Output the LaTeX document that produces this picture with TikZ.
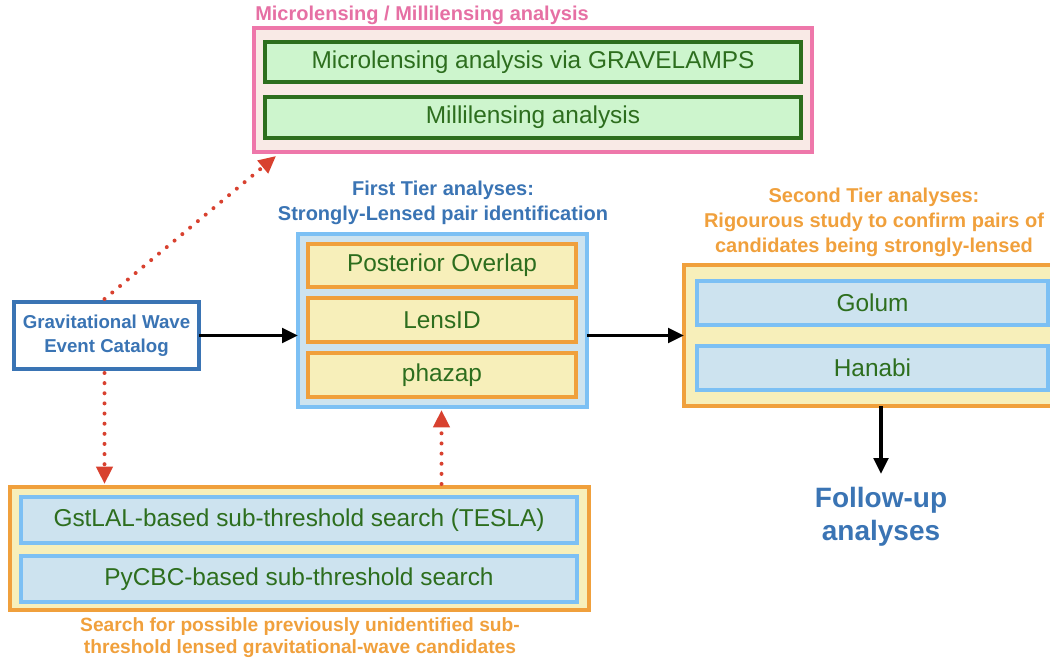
\documentclass[tikz,border=0pt]{standalone}
\usepackage{fontspec}
\setmainfont{Liberation Sans}
\usetikzlibrary{arrows.meta,calc}

\definecolor{pinkb}{HTML}{EE77AA}
\definecolor{pinkt}{HTML}{E670A4}
\definecolor{pinkf}{HTML}{F9EAE6}
\definecolor{greenb}{HTML}{2D6E1E}
\definecolor{greenf}{HTML}{CDF5CD}
\definecolor{blueb}{HTML}{3A74B4}
\definecolor{lblueb}{HTML}{7CC0F4}
\definecolor{lbluef}{HTML}{CDE3EF}
\definecolor{orangeb}{HTML}{F0A03C}
\definecolor{yellowf}{HTML}{F7EFBA}
\definecolor{redd}{HTML}{D8412F}

\tikzset{
  panel/.style={inner sep=0pt, outer sep=0pt, line width=2.4pt},
  microframe/.style={panel, draw=pinkb, fill=pinkf},
  greenbox/.style={panel, draw=greenb, fill=greenf, text=greenb, font=\fontsize{18.3}{22}\selectfont},
  blueframe/.style={panel, draw=lblueb, fill=lbluef},
  yellowframe/.style={panel, draw=orangeb, fill=yellowf},
  bluebox/.style={blueframe, text=greenb, font=\fontsize{18.3}{22}\selectfont},
  yellowbox/.style={yellowframe, text=greenb, font=\fontsize{18.3}{22}\selectfont},
  catalog/.style={panel, draw=blueb, fill=white, text=blueb, align=center,
    font=\bfseries\fontsize{14}{18}\selectfont},
  heading/.style={inner sep=0pt, align=center, font=\bfseries\fontsize{15}{18.8}\selectfont},
  flow/.style={line width=2.6pt, -{Triangle[length=12pt,width=11pt]}},
  link/.style={draw=redd, line width=3pt, line cap=round, dash pattern=on 0pt off 7.6pt,
    -{Triangle[length=13pt,width=12pt]}, redd},
}

% \panelnode{style}{name}{x1}{y1}{x2}{y2}{text}: a box spanning two corners (pixel units)
\newcommand{\panelnode}[7]{%
  \node[#1, minimum width={(#5-#3)*0.75pt}, minimum height={(#6-#4)*0.75pt}]
    (#2) at ({(#3+#5)/2},{(#4+#6)/2}) {#7};}

\begin{document}
\begin{tikzpicture}[x=0.75pt, y=-0.75pt]
\useasboundingbox (0,0) rectangle (1050,659);
\clip (0,0) rectangle (1050,659);

% Microlensing / Millilensing group
\node[heading, text=pinkt, anchor=west] (microtitle) at (255,15) {Microlensing / Millilensing analysis};
\panelnode{microframe}{micro}{254}{28}{812}{152}{}
\panelnode{greenbox}{gravelamps}{265}{42}{801}{82}{Microlensing analysis via GRAVELAMPS}
\panelnode{greenbox}{milli}{265}{97}{801}{138}{Millilensing analysis}

% Event catalog
\panelnode{catalog}{gw}{14}{302}{199}{369}{Gravitational Wave\\Event Catalog}

% First tier
\node[heading, text=blueb] (firsttitle) at (443,203) {First Tier analyses:\\Strongly-Lensed pair identification};
\panelnode{blueframe}{first}{298}{234}{587}{407}{}
\panelnode{yellowbox}{overlap}{308}{244}{576}{287}{Posterior Overlap}
\panelnode{yellowbox}{lensid}{308}{298}{576}{342}{LensID}
\panelnode{yellowbox}{phazap}{308}{353}{576}{397}{phazap}

% Second tier
\node[heading, text=orangeb] (secondtitle) at (874,222) {Second Tier analyses:\\Rigourous study to confirm pairs of\\candidates being strongly-lensed};
\panelnode{yellowframe}{second}{684}{265}{1064}{406}{}
\panelnode{bluebox}{golum}{697}{281}{1048}{325}{Golum}
\panelnode{bluebox}{hanabi}{697}{346}{1048}{390}{Hanabi}

\node[inner sep=0pt, align=center, text=blueb, font=\bfseries\fontsize{21}{25}\selectfont] (follow) at (881,517) {Follow-up\\analyses};
\coordinate (followtop) at (881,474);

% Sub-threshold searches
\panelnode{yellowframe}{sub}{10}{487}{589}{610}{}
\panelnode{bluebox}{tesla}{21}{497}{577}{543}{GstLAL-based sub-threshold search (TESLA)}
\panelnode{bluebox}{pycbc}{21}{556}{577}{602}{PyCBC-based sub-threshold search}
\node[heading, text=orangeb, font=\bfseries\fontsize{14.4}{16.5}\selectfont] (subcaption) at (300,638) {Search for possible previously unidentified sub-\\threshold lensed gravitational-wave candidates};

% Connectors
\draw[flow] (gw.east) -- (gw.east -| first.west);
\draw[flow] (first.east |- gw.east) -- (second.west |- gw.east);
\draw[flow] (second.south -| followtop) -- (followtop);

\draw[link] ($(gw.north)+(-2,-3)$) -- ($(micro.south west)+(22,4)$);
\draw[link] ($(gw.south)+(-2,4)$) -- ($(gw.south |- sub.north)+(-2,-3)$);
\draw[link] ($(first.south |- sub.north)+(-1,-3)$) -- ($(first.south)+(-1,3)$);
\end{tikzpicture}
\end{document}
